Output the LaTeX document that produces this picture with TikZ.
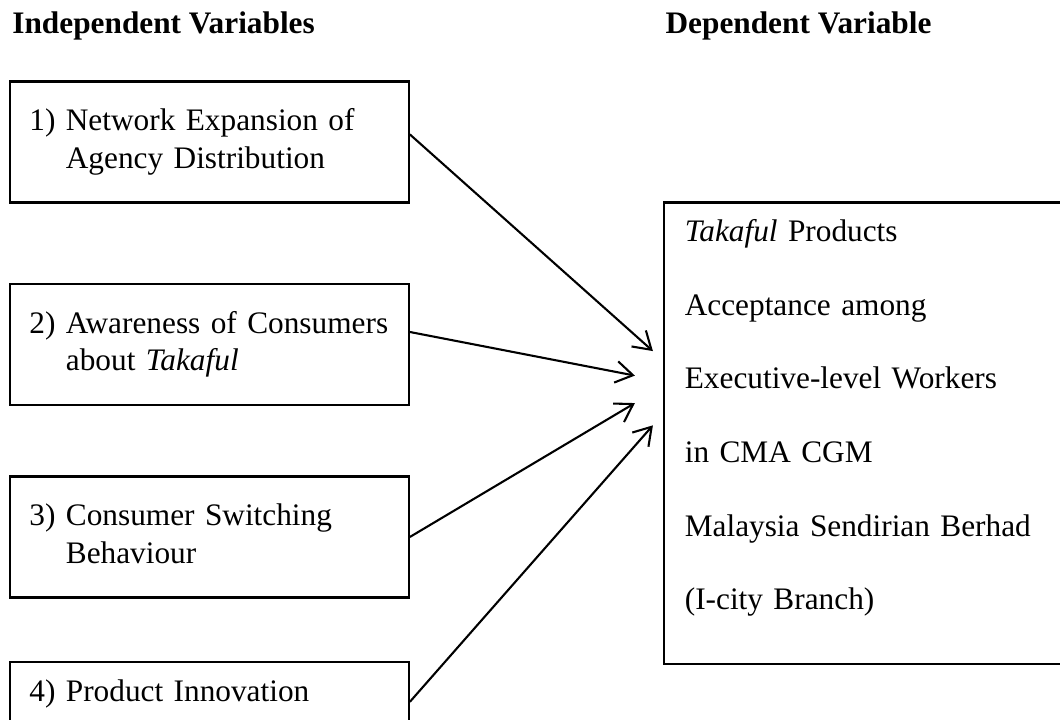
\documentclass[tikz,border=0pt]{standalone}
\usepackage{fontspec}
\setmainfont{Liberation Serif}
\usetikzlibrary{positioning, arrows.meta}

\begin{document}
\begin{tikzpicture}
		[
		font=\fontsize{12}{14.2}\selectfont,
		block/.style ={rectangle, draw=black, line width=0.9pt, text width=4.85cm, inner xsep=0.26cm, align=left, minimum height=1.63cm},
		head/.style ={font=\fontsize{12}{14.2}\selectfont\bfseries, inner sep=0pt, anchor=base west},
		link/.style ={-{Straight Barb[length=2.3mm, width=2.9mm]}, line width=0.8pt}
		]
		\useasboundingbox (0,0) rectangle (14.28,9.69);
		\node[] (iv) at (0.16,9.24) [head] {Independent Variables};
		\node[] (dv) at (8.96,9.24) [head] {Dependent Variable};
		\node[anchor=north west] (a) at (0.12,8.61) [block] {1) Network Expansion of\\\phantom{1) }Agency Distribution};
		\node[below= 1.07cm of a] (b) [block] {2) Awareness of Consumers\\\phantom{2) }about \textit{Takaful}};
		\node[below= 0.93cm of b] (c) [block] {3) Consumer Switching\\\phantom{3) }Behaviour};
		\node[below= 0.84cm of c, inner ysep=0.235cm, text depth=2cm] (d) [block] {4) Product Innovation};
		\node[anchor=north west, draw=black, line width=0.9pt, text width=6cm, inner xsep=0.28cm, inner ysep=0.235cm, align=left, font=\fontsize{12}{28.2}\selectfont, text depth=5.45cm] (y) at (8.93,6.98) {\textit{Takaful} Products\\Acceptance among\\Executive-level Workers\\in CMA CGM\\Malaysia Sendirian Berhad\\(I-city Branch)};
		\coordinate (t1) at ([xshift=-0.134cm, yshift=-2.02cm]y.north west);
		\coordinate (t2) at ([xshift=-0.377cm, yshift=-2.35cm]y.north west);
		\coordinate (t3) at ([xshift=-0.377cm, yshift=-2.72cm]y.north west);
		\coordinate (t4) at ([xshift=-0.134cm, yshift=-3.02cm]y.north west);
		\draw[link] ([yshift=0.1cm]a.east) -- (t1);
		\draw[link] ([yshift=0.17cm]b.east) -- (t2);
		\draw[link] (c.east) -- (t3);
		\draw[link] ([yshift=-0.55cm]d.north east) -- (t4);
	\end{tikzpicture}
\end{document}
